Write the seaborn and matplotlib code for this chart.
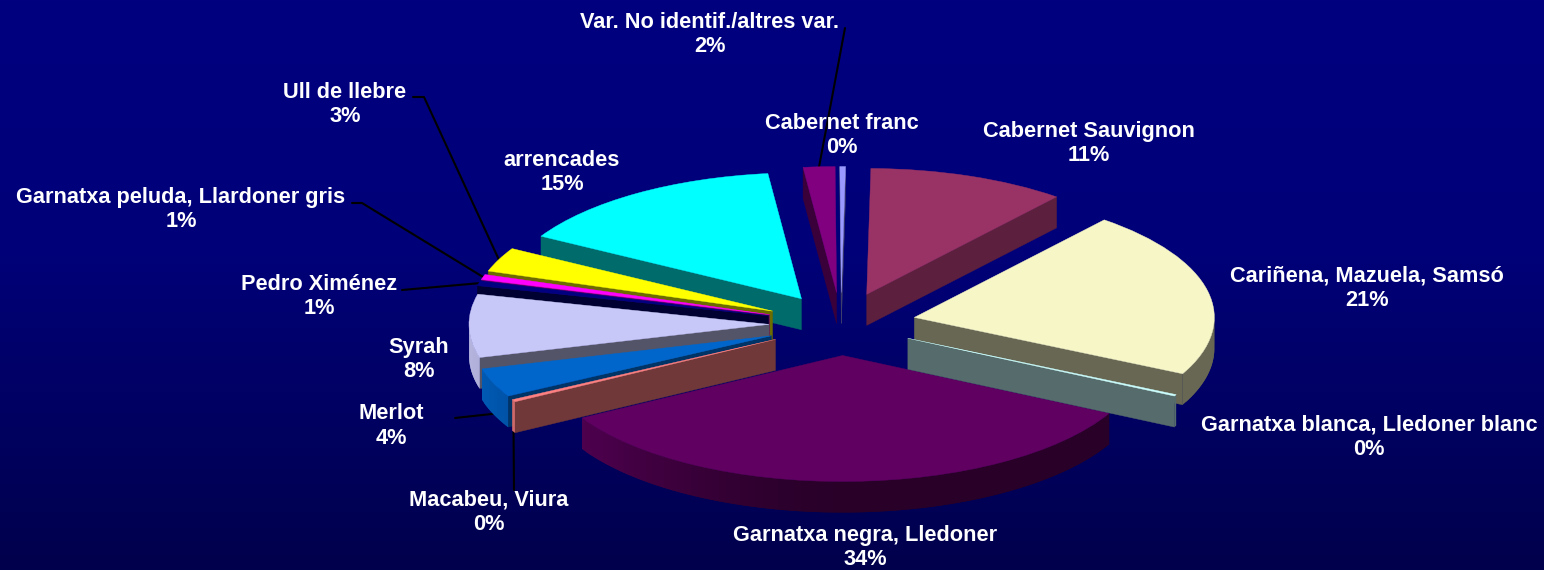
from matplotlib import pyplot as plt
from matplotlib.colors import LinearSegmentedColormap
from matplotlib.patches import Polygon
import numpy as np
import seaborn as sns

# varieties, clockwise from 12 o'clock
varieties = ["Cabernet Sauvignon", "Cariñena, Mazuela, Samsó", "Garnatxa blanca, Lledoner blanc",
             "Garnatxa negra, Lledoner", "Macabeu, Viura", "Merlot", "Syrah", "Pedro Ximénez",
             "Garnatxa peluda, Llardoner gris", "Ull de llebre", "arrencades",
             "Var. No identif./altres var.", "Cabernet franc"]
shares = [10.65, 21.4, 0.2, 34.05, 0.3, 3.7, 8.06, 0.64, 0.66, 3.1, 14.9, 1.7, 0.3]
slice_colors = ["#993366", "#F6F6C6", "#CCFFFF", "#600060", "#FF8080", "#0066CC", "#C8C8F8",
                "#000080", "#FF00FF", "#FFFF00", "#00FFFF", "#800080", "#9999FF"]

# layout in reference pixels
W, H = 1544, 570
CX, CY, RX, RY = 841, 324, 300, 126
DEPTH = 31 / RY
explode = [0.25, 0.25, 0.25, 0.25, 0.25, 0.25, 0.24, 0.25, 0.25, 0.25, 0.24, 0.25, 0.25]
label_px = [(1089, 143.5), (1367, 288.5), (1369, 437.5), (865, 547.5), (489, 512.5), (391, 426), (419, 359.5),
            (319, 296.5), (181, 209.5), (345, 104.5), (562, 172.5), (710, 34.5), (842, 135.5)]
# where a leader line leaves its label (None = no line)
leader_px = [None, None, None, None, [(514, 490)], [(455, 418)], None,
             [(402, 290)], [(352, 203), (362, 203)], [(413, 97), (424, 97)], None, [(845, 28)], None]
radial_fade = [0.6, 0.42, 0.42, 0.42, 0.44, 0.5, 0.42, 0.38, 0.42, 0.42, 0.42, 0.45, 0.42]
ARC_STEP = 1.5


def to_data(x, y):
    return (x - CX) / RX, (CY - y) / RY


def shade(color, f):
    return tuple(c * f for c in color)


def outer_fade(deg):
    t = max(0.0, -np.cos(np.radians(deg)))
    return 0.42 + 0.48 * t ** 1.5


sns.set_theme(style="white")
plt.rcParams["font.family"] = ["Liberation Sans", "DejaVu Sans"]
palette = sns.color_palette(slice_colors)

fig = plt.figure(figsize=(W / 100, H / 100), dpi=100)
ax = fig.add_axes([0, 0, 1, 1])

wedges, _ = ax.pie(shares, colors=palette, startangle=89.2, counterclock=False, radius=1,
                   explode=explode, wedgeprops={"linewidth": 0})
ax.set_aspect("auto")
x0, y0 = to_data(0, H)
x1, y1 = to_data(W, 0)

sky = LinearSegmentedColormap.from_list(
    "sky", [(0, "#000080"), (0.45, "#000078"), (0.8, "#00005C"), (1, "#00004C")], N=1024)
ax.imshow(np.linspace(0, 1, 570).reshape(-1, 1), cmap=sky, aspect="auto",
          extent=(x0, x1, y0, y1), origin="upper", zorder=0)

# the biggest slice goes down first, the others from the back to the front
mids = [np.radians((w.theta1 + w.theta2) / 2) for w in wedges]
biggest = int(np.argmax(shares))
order = [biggest] + sorted((i for i in range(len(shares)) if i != biggest), key=lambda i: -np.sin(mids[i]))
for rank, i in enumerate(order):
    w = wedges[i]
    cx, cy = w.center
    t1, t2 = w.theta1, w.theta2
    base = palette[i]
    z = 10 + rank * 3
    w.set_zorder(z + 2)
    w.set_edgecolor(base)
    w.set_linewidth(0.3)

    def rim(deg):
        return cx + np.cos(np.radians(deg)), cy + np.sin(np.radians(deg))

    for deg, visible in ((t1, np.cos(np.radians(t1)) > 0), (t2, np.cos(np.radians(t2)) < 0)):
        if visible:
            ex, ey = rim(deg)
            col = shade(base, radial_fade[i])
            ax.add_patch(Polygon([(cx, cy), (ex, ey), (ex, ey - DEPTH), (cx, cy - DEPTH)],
                                 fc=col, ec=col, lw=0.3, zorder=z))

    # outer wall in short strips, each one running under the next so no seams show
    steps = np.append(np.arange(t1, t2, ARC_STEP), t2)
    for a, b in zip(steps[:-1], steps[1:]):
        mid = (a + b) / 2
        if np.sin(np.radians(mid)) < 0:
            end = min(b + ARC_STEP, t2)
            pts = [rim(d) for d in np.linspace(a, end, 4)]
            low = [(px, py - DEPTH) for px, py in pts[::-1]]
            ax.add_patch(Polygon(pts + low, fc=shade(base, outer_fade(mid)), lw=0, zorder=z + 1))

total = sum(shares)
for i, name in enumerate(varieties):
    lx, ly = label_px[i]
    ax.text(*to_data(lx, ly), f"{name}\n{shares[i] / total * 100:.0f}%", color="white", fontsize=15.7,
            fontweight="bold", ha="center", va="center", linespacing=1.24, zorder=100)
    if leader_px[i] is not None:
        w = wedges[i]
        pts = [to_data(*p) for p in leader_px[i]]
        ex, ey = w.center[0] + np.cos(mids[i]), w.center[1] + np.sin(mids[i])
        if np.sin(mids[i]) < 0:
            ey -= DEPTH
        pts.append((ex, ey))
        ax.plot([p[0] for p in pts], [p[1] for p in pts], color="black", lw=1.5, zorder=5)

ax.set_xlim(x0, x1)
ax.set_ylim(y0, y1)
ax.set_axis_off()
fig.savefig("out.png", dpi=100)
